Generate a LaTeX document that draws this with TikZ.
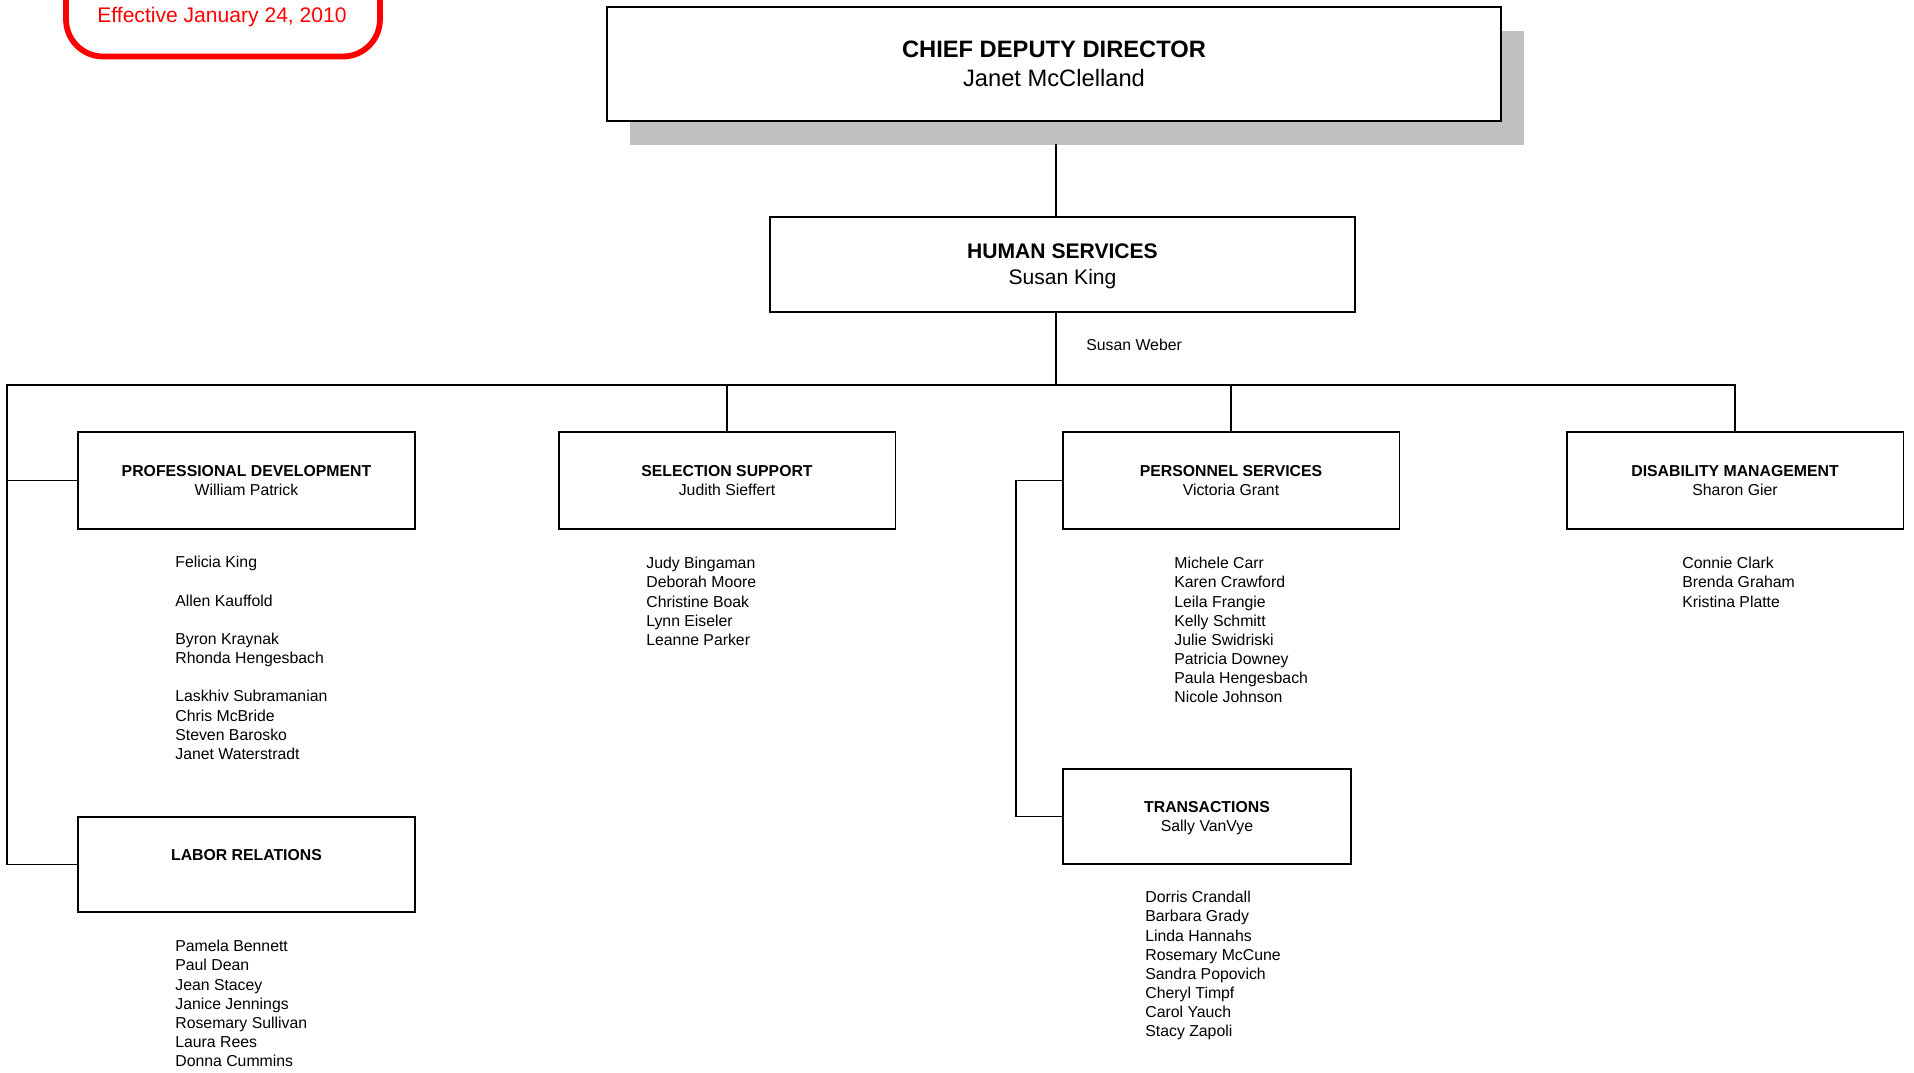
\documentclass[tikz,border=0pt]{standalone}
\usepackage{fontspec}
\setmainfont{Liberation Sans}
\usetikzlibrary{positioning,shadows}
\definecolor{shadowgray}{HTML}{C0C0C0}
\definecolor{effred}{HTML}{FF0000}
\newcommand{\nodepth}[1]{\raisebox{0pt}[\height][0pt]{#1}}

\begin{document}
\begin{tikzpicture}[x=0.02cm, y=-0.02cm,
    unit/.style={draw=black, line width=1.1pt, fill=white, align=center, inner sep=0pt,
                 minimum width=6.74cm, minimum height=1.94cm, font=\fontsize{9}{10.9}\selectfont},
    staff/.style={anchor=north west, align=left, inner sep=0pt, font=\fontsize{9}{10.9}\selectfont},
    link/.style={draw=black, line width=1.1pt}]
            \useasboundingbox (0,0) rectangle (1914,1072);
            \clip (0,0) rectangle (1914,1072);

            % effective date
            \node[draw=effred,line width=3.3pt,rounded corners=0.74cm,minimum width=6.28cm,minimum height=3cm] (effbox) at (223,-18.5) {};
            \node[text=effred,font=\fontsize{12}{14}\selectfont,inner sep=0pt,anchor=base] (eff) at (222,22) {Effective January 24, 2010};

            % units
            \node[unit,minimum width=17.88cm,minimum height=2.28cm,font=\fontsize{13.5}{16.5}\selectfont,
                  drop shadow={shadow xshift=0.46cm,shadow yshift=-0.48cm,fill=shadowgray,opacity=1}] (cdd) at (1054,64) {\textbf{CHIEF DEPUTY DIRECTOR}\\Janet McClelland};
            \node[unit,minimum width=11.7cm,minimum height=1.9cm,font=\fontsize{12}{14.8}\selectfont] (hs) at (1062.5,264.5) {\textbf{HUMAN SERVICES}\\\nodepth{Susan King}};
            \node[staff,anchor=west] (sw) at (1086,345) {Susan Weber};

            \node[unit] (pd) at (246.5,480.5) {\textbf{PROFESSIONAL DEVELOPMENT}\\William Patrick};
            \node[unit] (ss) at (727,480.5) {\textbf{SELECTION SUPPORT}\\Judith Sieffert};
            \node[unit] (ps) at (1231,480.5) {\textbf{PERSONNEL SERVICES}\\Victoria Grant};
            \node[unit] (dm) at (1735,480.5) {\textbf{DISABILITY MANAGEMENT}\\Sharon Gier};
            \node[unit,minimum width=5.76cm,minimum height=1.9cm] (tr) at (1207,816.5) {\textbf{TRANSACTIONS}\\\nodepth{Sally VanVye}};
            \node[unit,minimum height=1.9cm] (lr) at (246.5,864.5) {\textbf{LABOR RELATIONS}\\\mbox{}};

            % staff lists
            \node[staff] (pdstaff) at (175,556) {Felicia King\\[10.9pt]Allen Kauffold\\[10.9pt]Byron Kraynak\\Rhonda Hengesbach\\[10.9pt]Laskhiv Subramanian\\Chris McBride\\Steven Barosko\\Janet Waterstradt};
            \node[staff] (ssstaff) at (646,557) {Judy Bingaman\\Deborah Moore\\Christine Boak\\Lynn Eiseler\\Leanne Parker};
            \node[staff] (psstaff) at (1174,557) {Michele Carr\\Karen Crawford\\Leila Frangie\\Kelly Schmitt\\Julie Swidriski\\Patricia Downey\\Paula Hengesbach\\Nicole Johnson};
            \node[staff] (dmstaff) at (1682,557) {Connie Clark\\Brenda Graham\\Kristina Platte};
            \node[staff] (trstaff) at (1145,891) {Dorris Crandall\\Barbara Grady\\Linda Hannahs\\Rosemary McCune\\Sandra Popovich\\Cheryl Timpf\\Carol Yauch\\Stacy Zapoli};
            \node[staff] (lrstaff) at (175,940) {Pamela Bennett\\Paul Dean\\Jean Stacey\\Janice Jennings\\Rosemary Sullivan\\Laura Rees\\Donna Cummins};

            % lines
            \coordinate (hub) at (1056,385);
            \coordinate (busl) at (7,385);
            \coordinate (psl) at (1016,481);

            \draw[link] (hub |- hs.north) -- ++(0,-72);
            \draw[link] (hub |- hs.south) -- (hub);
            \draw[link] (lr.west) -| (busl) -| (dm.north);
            \draw[link] (pd.west) -- (pd.west -| busl);
            \draw[link] (ss.north) -- (ss.north |- busl);
            \draw[link] (ps.north) -- (ps.north |- busl);
            \draw[link] (ps.west) -- (ps.west -| psl) |- (tr.west);
        \end{tikzpicture}
\end{document}
